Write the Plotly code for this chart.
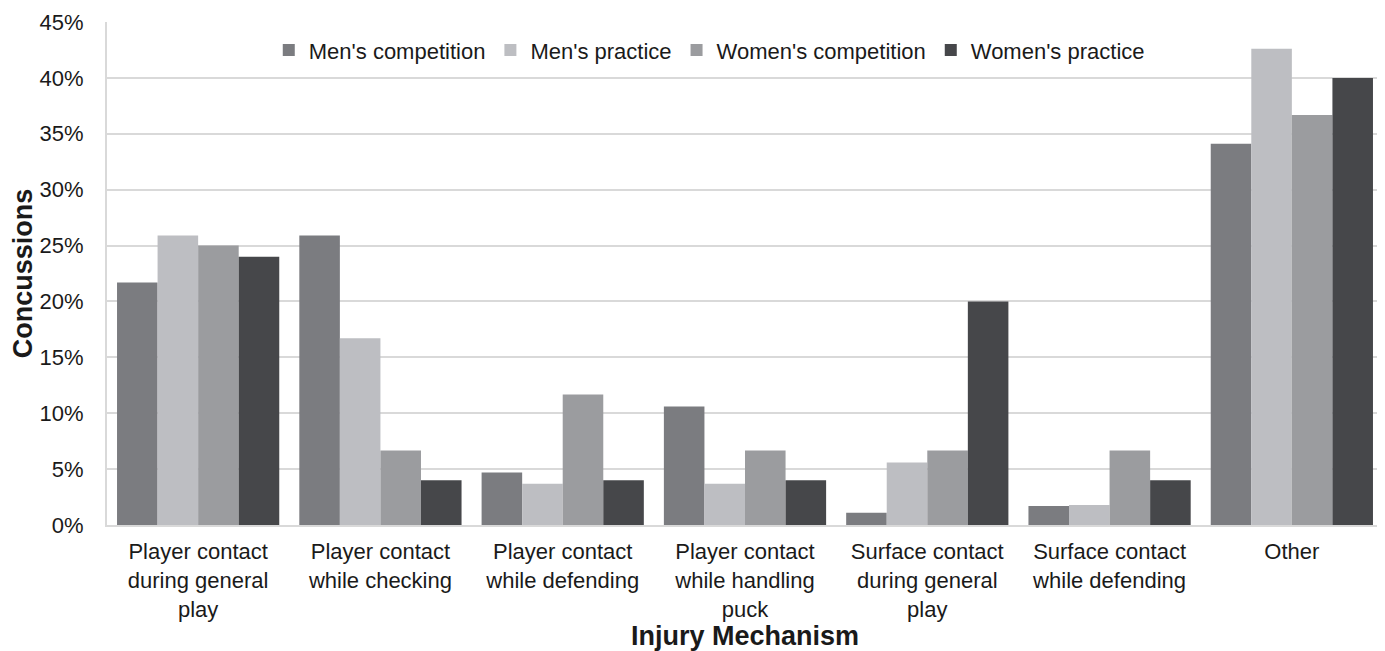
import plotly.graph_objects as go

categories = [
    "Player contact<br>during general<br>play",
    "Player contact<br>while checking",
    "Player contact<br>while defending",
    "Player contact<br>while handling<br>puck",
    "Surface contact<br>during general<br>play",
    "Surface contact<br>while defending",
    "Other",
]
series_names = ["Men's competition", "Men's practice", "Women's competition", "Women's practice"]
mens_competition = [21.7, 25.9, 4.7, 10.6, 1.1, 1.7, 34.1]
mens_practice = [25.9, 16.7, 3.7, 3.7, 5.6, 1.8, 42.6]
womens_competition = [25.0, 6.67, 11.67, 6.67, 6.67, 6.67, 36.67]
womens_practice = [24.0, 4.0, 4.0, 4.0, 20.0, 4.0, 40.0]
colors = ["#7b7c80", "#bdbec2", "#9b9c9f", "#46474a"]
y_ticks = [0, 5, 10, 15, 20, 25, 30, 35, 40, 45]

fig = go.Figure()
for name, vals, col in zip(series_names,
                           [mens_competition, mens_practice, womens_competition, womens_practice],
                           colors):
    fig.add_trace(go.Bar(x=categories, y=vals, name=name,
                         marker=dict(color=col, line=dict(width=0))))

fig.update_layout(
    width=1377, height=643,
    barmode="group", bargap=0.11, bargroupgap=0,
    plot_bgcolor="white", paper_bgcolor="white",
    font=dict(family="Liberation Sans, Arial, sans-serif", size=22, color="#1a1a1a"),
    margin=dict(l=99, r=2, t=14, b=126, autoexpand=False),
    legend=dict(orientation="h", x=0.472, xanchor="center", y=0.944, yanchor="middle",
                font=dict(size=22), bgcolor="rgba(0,0,0,0)", itemwidth=30, tracegroupgap=0),
    xaxis=dict(showline=True, linecolor="#d9d9d9", linewidth=2,
               ticks="outside", ticklen=6, tickcolor="rgba(0,0,0,0)",
               tickfont=dict(size=22),
               title=dict(text="<b>Injury Mechanism</b>", font=dict(size=27), standoff=0)),
    yaxis=dict(range=[0, 45], tickvals=y_ticks, ticktext=[f"{v}%" for v in y_ticks],
               showgrid=True, gridcolor="#d9d9d9", gridwidth=1.5,
               showline=True, linecolor="#d9d9d9", linewidth=2,
               ticks="outside", ticklen=17, tickcolor="rgba(0,0,0,0)",
               zeroline=False, tickfont=dict(size=22),
               title=dict(text="<b>Concussions</b>", font=dict(size=27), standoff=2)),
)

fig.write_html("out.html")
